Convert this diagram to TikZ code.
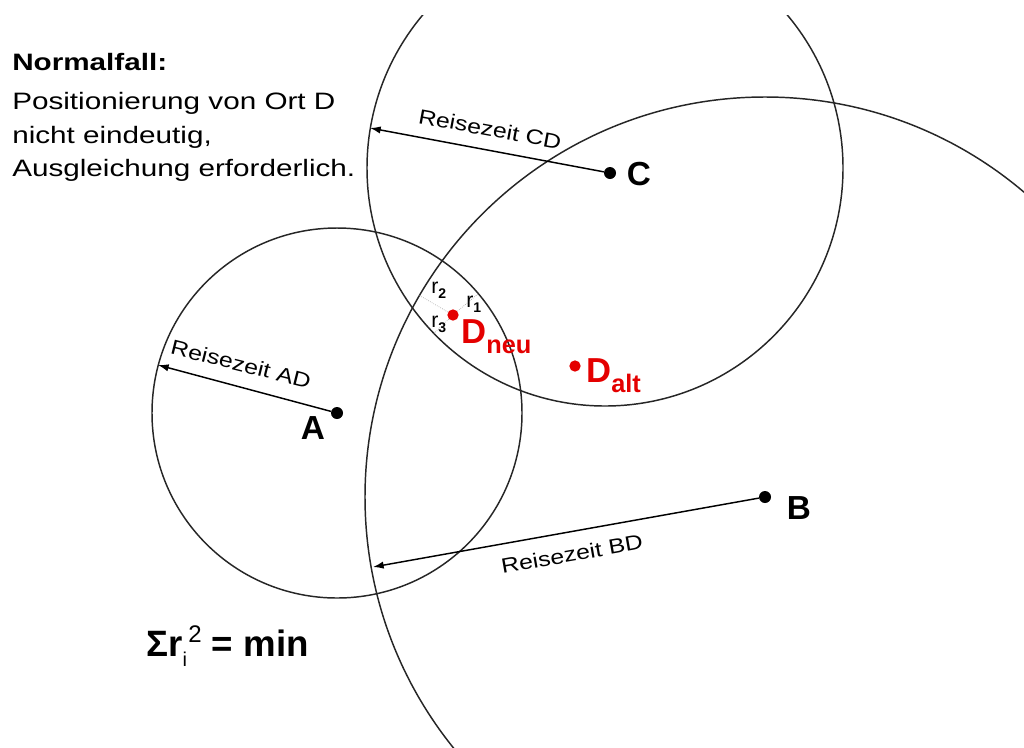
\documentclass[tikz,border=0pt]{standalone}
\usepackage{fontspec}
\setmainfont{Liberation Sans}
\newfontfamily\breitfont[FakeStretch=1.25]{Liberation Sans}
\newfontfamily\reisefont[FakeStretch=1.2]{Liberation Sans}
\usetikzlibrary{arrows.meta,calc}
\definecolor{dred}{RGB}{228,0,0}
\tikzset{
  kreis/.style={draw=black!85, line width=1.1pt},
  ort/.style={circle, fill=black, inner sep=0pt, minimum size=9pt},
  dort/.style={circle, fill=dred, inner sep=0pt, minimum size=8.5pt},
  ortname/.style={font=\bfseries\fontsize{25}{25}\selectfont, inner sep=0pt},
  reise/.style={font=\reisefont\fontsize{15.5}{15.5}\selectfont, inner sep=0pt},
  pfeil/.style={-{Latex[length=8pt,width=5.5pt]}, line width=1.1pt},
  rlinie/.style={densely dotted, draw=gray!70, line width=0.5pt},
  dname/.style={text=dred, font=\bfseries\fontsize{26}{26}\selectfont, inner sep=0pt, anchor=base west},
  rname/.style={font=\fontsize{16}{16}\selectfont, inner sep=0pt, anchor=base west},
}
\newcommand{\dsub}[1]{\raisebox{-7.5pt}{\fontsize{19}{19}\selectfont #1}}
\newcommand{\rsub}[1]{r\raisebox{-4pt}{\bfseries\fontsize{10.5}{10.5}\selectfont #1}}

\begin{document}
\begin{tikzpicture}[x=0.75pt, y=-0.75pt]
    \useasboundingbox (0,0) rectangle (1024,747);
    \fill[white] (0,0) rectangle (1024,747);
    % Text oben links
    \node[font=\breitfont\bfseries\fontsize{17.8}{25}\selectfont, inner sep=0pt, anchor=base west] (titel) at (12,70) {Normalfall:};
    \node[font=\breitfont\fontsize{17.8}{25.3}\selectfont, inner sep=0pt, anchor=north west, align=left] (info) at (12,92)
        {Positionierung von Ort D\\nicht eindeutig,\\Ausgleichung erforderlich.};

    % Orte A, B, C
    \node[ort] (A) at (337,413) {};
    \node[ort] (B) at (765,497) {};
    \node[ort] (C) at (610,173) {};
    \node[ortname] (nA) at (313,428) {A};
    \node[ortname] (nB) at (799,508) {B};
    \node[ortname] (nC) at (639,174) {C};

    % Kreise der Reisezeiten
    \coordinate (cC) at (605,168);
    \begin{scope}
        \clip (0,15) rectangle (1024,747);
        \draw[kreis] (A) circle (185);
        \draw[kreis] (B) circle (400);
        \draw[kreis] (cC) circle (238);
    \end{scope}

    % Reisezeiten
    \coordinate (tA) at (158,365);
    \coordinate (tB) at (373,567);
    \coordinate (tC) at (370,128);
    \draw[pfeil] (A) -- (tA);
    \draw[pfeil] (B) -- (tB);
    \draw[pfeil] (C) -- (tC);
    \node[reise, rotate=-14] (lA) at (241,364) {Reisezeit AD};
    \node[reise, rotate=10] (lB) at (572,554) {Reisezeit BD};
    \node[reise, rotate=-10.5] (lC) at (490,129) {Reisezeit CD};

    % Punkt D alt / neu
    \node[dort] (Dneu) at (453,315) {};
    \node[dort] (Dalt) at (575,366) {};
    \node[dname] (nDneu) at (461,343) {D\dsub{neu}};
    \node[dname] (nDalt) at (586,382) {D\dsub{alt}};

    % Abstaende r1, r2, r3
    \coordinate (f1) at ($(A)!138.75pt!(Dneu)$);
    \coordinate (f2) at ($(B)!300pt!(Dneu)$);
    \coordinate (f3) at ($(cC)!178.5pt!(Dneu)$);
    \draw[rlinie] (Dneu) -- (f1);
    \draw[rlinie] (Dneu) -- (f2);
    \draw[rlinie] (Dneu) -- (f3);
    \node[rname] (r1) at (466,307) {\rsub{1}};
    \node[rname] (r2) at (431,293) {\rsub{2}};
    \node[rname] (r3) at (431,327) {\rsub{3}};

    % Ausgleichung
    \node[font=\bfseries\fontsize{27.5}{27.5}\selectfont, inner sep=0pt, anchor=base west] (summe) at (146,656)
        {Σr\raisebox{-8pt}{\mdseries\fontsize{15}{15}\selectfont i}\kern1pt\raisebox{10pt}{\mdseries\fontsize{18}{18}\selectfont 2} = min};
\end{tikzpicture}
\end{document}
